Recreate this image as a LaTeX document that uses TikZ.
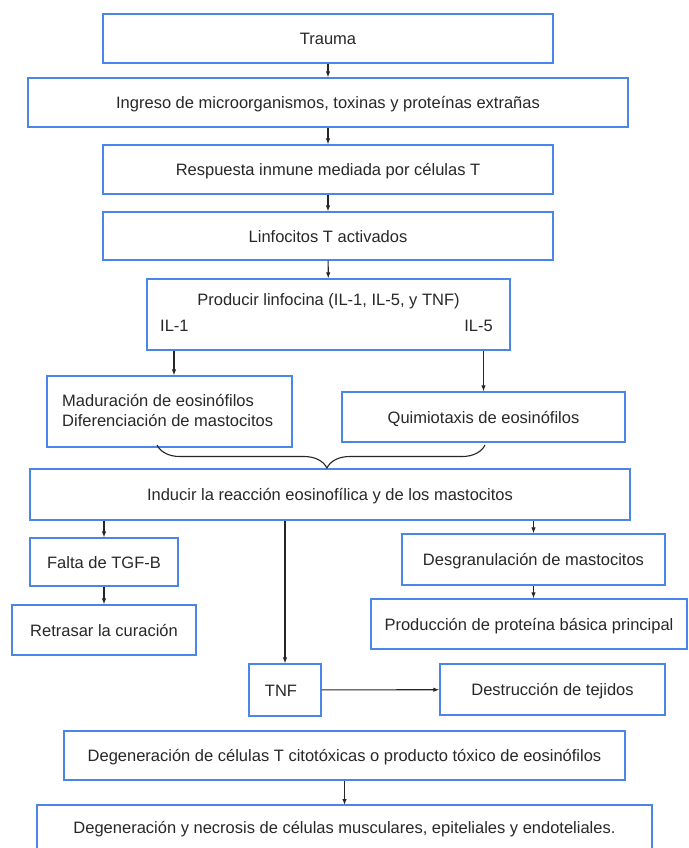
\documentclass[tikz,border=0pt]{standalone}
\usepackage{fontspec}
\setmainfont{Liberation Sans}
\usetikzlibrary{arrows.meta,decorations.pathreplacing}
\definecolor{boxblue}{RGB}{74,134,232}
\definecolor{txt}{RGB}{40,40,40}
\begin{document}
\begin{tikzpicture}[x=1pt,y=1pt,
  box/.style={draw=boxblue,line width=1.3pt,inner sep=0pt,text=txt,text height=12pt,text depth=0pt,font=\fontsize{16.5}{20}\selectfont},
  plain/.style={inner sep=0pt,text=txt,font=\fontsize{16.5}{20}\selectfont},
  arr/.style={draw=black!85,line width=1.1pt,-{Latex[length=6pt,width=4.5pt]}},
  bracestyle/.style={draw=black!85,line width=1.1pt,decorate,decoration={brace,mirror,amplitude=23pt,aspect=0.518}}]
\fill[white] (0,0) rectangle (688,-848);
\useasboundingbox (0,0) rectangle (688,-848);
% top chain
\node[box,minimum width=450pt,minimum height=49pt] (trauma) at (328,-38.5) {Trauma};
\node[box,minimum width=600pt,minimum height=49pt] (ingreso) at (328,-102.5) {Ingreso de microorganismos, toxinas y proteínas extrañas};
\node[box,minimum width=450pt,minimum height=49pt] (resp) at (328,-169.5) {Respuesta inmune mediada por células T};
\node[box,minimum width=450pt,minimum height=48pt] (linfo) at (328,-236) {Linfocitos T activados};
\node[box,minimum width=363pt,minimum height=71pt] (prod) at (328.5,-314.5) {};
\node[plain] (prodtxt) at (328.5,-301) {Producir linfocina (IL-1, IL-5, y TNF)};
\node[plain,anchor=west] (il1) at (160,-326) {IL-1};
\node[plain,anchor=east] (il5) at (493,-326) {IL-5};
% second level
\node[box,minimum width=245pt,minimum height=71pt] (madur) at (169.5,-411.5) {};
\node[plain,anchor=west,align=left] (madurtxt) at (62,-411) {Maduración de eosinófilos\\Diferenciación de mastocitos};
\node[box,minimum width=283pt,minimum height=50pt] (quimio) at (483.5,-417) {Quimiotaxis de eosinófilos};
\node[box,minimum width=600pt,minimum height=51pt] (inducir) at (330,-494.5) {Inducir la reacción eosinofílica y de los mastocitos};
% branches
\node[box,minimum width=148pt,minimum height=48pt] (falta) at (104,-562) {Falta de TGF-B};
\node[box,minimum width=184pt,minimum height=50pt] (retrasar) at (104,-630) {Retrasar la curación};
\node[box,minimum width=263pt,minimum height=51pt] (desgr) at (533.5,-559.5) {Desgranulación de mastocitos};
\node[box,minimum width=316pt,minimum height=50pt] (produccion) at (529,-624) {Producción de proteína básica principal};
\node[box,minimum width=72pt,minimum height=52pt] (tnf) at (285,-690) {\hspace*{-8pt}TNF};
\node[box,minimum width=225pt,minimum height=51pt] (destr) at (552.5,-689.5) {Destrucción de tejidos};
\node[box,minimum width=561pt,minimum height=49pt] (degT) at (344.5,-755.5) {Degeneración de células T citotóxicas o producto tóxico de eosinófilos};
\draw[draw=boxblue,line width=1.3pt] (37,-805) rectangle (652,-870);
\coordinate (degNtop) at (344.5,-805);
\node[plain,text height=12pt,text depth=0pt] (degN) at (344.5,-827) {Degeneración y necrosis de células musculares, epiteliales y endoteliales.};
% connectors
\draw[arr] (trauma) -- (ingreso);
\draw[arr] (ingreso) -- (resp);
\draw[arr] (resp) -- (linfo);
\draw[arr] (linfo) -- (prod);
\draw[arr] ([xshift=4.5pt]madur.north |- prod.south) -- ([xshift=4.5pt]madur.north);
\draw[arr] (quimio.north |- prod.south) -- (quimio.north);
\draw[bracestyle] (157,-445) coordinate (bl) -- (485,-445) coordinate (br);
\draw[arr] (falta.north |- inducir.south) -- (falta.north);
\draw[arr] (falta) -- (retrasar);
\draw[arr] (tnf.north |- inducir.south) -- (tnf.north);
\draw[arr] (desgr.north |- inducir.south) -- (desgr.north);
\draw[arr] (desgr.south) -- (desgr.south |- produccion.north);
\draw[arr] (tnf) -- (destr);
\draw[arr] (degT.south) -- (degNtop);
\end{tikzpicture}
\end{document}
